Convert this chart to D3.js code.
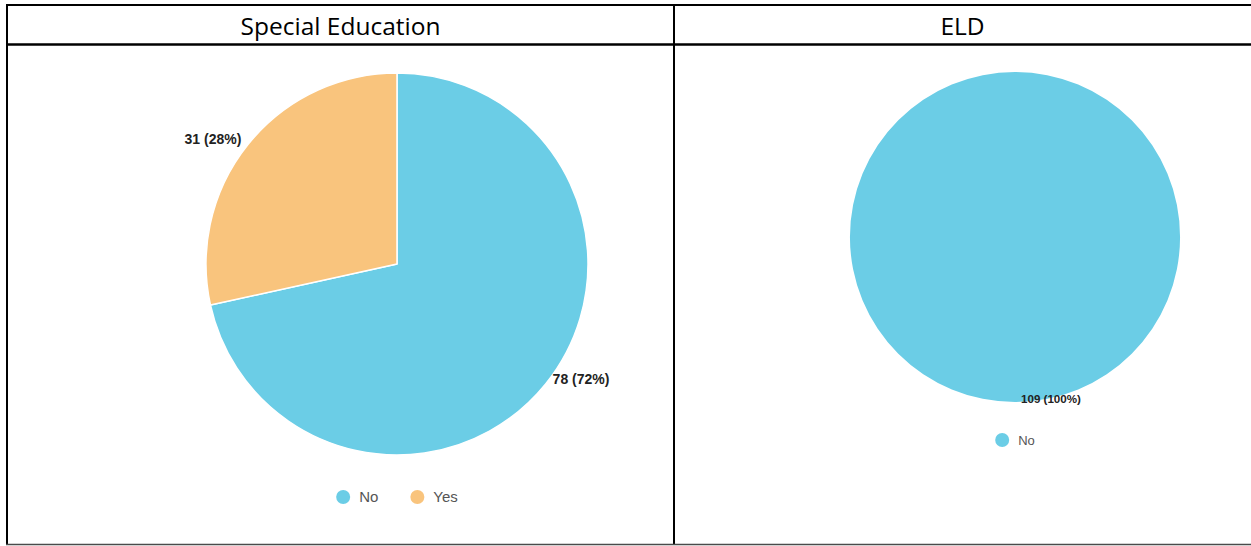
<!DOCTYPE html>
<html>
<head>
<meta charset="utf-8">
<script src="https://cdn.jsdelivr.net/npm/d3@7"></script>
<style>
  html, body { margin: 0; padding: 0; background: #fff; }
  svg { display: block; }
</style>
</head>
<body>
<svg id="chart" width="1251" height="546"></svg>
<script>
// Panel titles
const panelTitles = ["Special Education", "ELD"];

// Special Education responses
const specialEdCategories = ["No", "Yes"];
const specialEdCounts = [78, 31];

// ELD responses
const eldCategories = ["No"];
const eldCounts = [109];

// Shared category colours
const categoryColors = { "No": "#6bcde6", "Yes": "#f9c47d" };

const svg = d3.select("#chart");

// ---- table frame ----
const frame = { left: 7, mid: 674, right: 1251, top: 5, headerBottom: 44.5, bottom: 544.5 };
const g = svg.append("g");
g.append("line").attr("x1", 6).attr("x2", 1251).attr("y1", frame.top).attr("y2", frame.top)
  .attr("stroke", "#000").attr("stroke-width", 2);
g.append("line").attr("x1", 6).attr("x2", 1251).attr("y1", frame.headerBottom).attr("y2", frame.headerBottom)
  .attr("stroke", "#000").attr("stroke-width", 2.5);
g.append("line").attr("x1", frame.left).attr("x2", frame.left).attr("y1", 4).attr("y2", 545)
  .attr("stroke", "#000").attr("stroke-width", 2);
g.append("line").attr("x1", frame.mid).attr("x2", frame.mid).attr("y1", 4).attr("y2", 545)
  .attr("stroke", "#000").attr("stroke-width", 2);
g.append("line").attr("x1", 6).attr("x2", 1251).attr("y1", frame.bottom).attr("y2", frame.bottom)
  .attr("stroke", "#4a4a4a").attr("stroke-width", 1.5);

// header titles
const titleX = [(frame.left + frame.mid) / 2, (frame.mid + frame.right) / 2];
panelTitles.forEach((t, i) => {
  g.append("text")
    .attr("x", titleX[i]).attr("y", 35)
    .attr("text-anchor", "middle")
    .attr("font-family", "'Open Sans', 'Noto Sans', sans-serif")
    .attr("font-size", 24.5)
    .attr("fill", "#000")
    .text(t);
});

// ---- pie drawing ----
function drawPie(opts) {
  const { categories, counts, cx, cy, radius, labelSize, legendSize, legendY, legendDot } = opts;
  const data = categories.map((c, i) => ({ category: c, value: counts[i] }));
  const total = d3.sum(counts);
  const pie = d3.pie().sort(null).value(d => d.value);
  const arc = d3.arc().innerRadius(0).outerRadius(radius);
  const arcs = pie(data);

  const pg = svg.append("g").attr("transform", `translate(${cx},${cy})`);

  pg.selectAll("path.slice")
    .data(arcs)
    .join("path")
    .attr("class", "slice")
    .attr("d", arc)
    .attr("fill", d => categoryColors[d.data.category])
    .attr("stroke", arcs.length > 1 ? "#fff" : "none")
    .attr("stroke-width", 1.5)
    .attr("stroke-linejoin", "round");

  // value labels just outside the rim at each slice's mid-angle
  const labelArc = d3.arc().innerRadius(radius + 1).outerRadius(radius + 1);
  pg.selectAll("text.value")
    .data(arcs)
    .join("text")
    .attr("class", "value")
    .each(function (d) {
      const [x, y] = labelArc.centroid(d);
      const right = x >= -1e-6;
      d3.select(this)
        .attr("x", x + (right ? 6 : -6))
        .attr("y", y)
        .attr("text-anchor", right ? "start" : "end");
    })
    .attr("font-family", "'Liberation Sans', Arial, sans-serif")
    .attr("font-weight", "bold")
    .attr("font-size", labelSize)
    .attr("fill", "#222")
    .text(d => `${d.data.value} (${Math.round(d.data.value / total * 100)}%)`);

  // legend, centred under the pie
  const lg = svg.append("g");
  const items = lg.selectAll("g.item").data(data).join("g").attr("class", "item");
  items.append("circle")
    .attr("r", legendDot)
    .attr("cy", 0)
    .attr("fill", d => categoryColors[d.category]);
  items.append("text")
    .attr("x", legendDot + 9)
    .attr("dy", "0.35em")
    .attr("font-family", "'Liberation Sans', Arial, sans-serif")
    .attr("font-size", legendSize)
    .attr("fill", "#555")
    .text(d => d.category);
  let offset = 0;
  const widths = [];
  items.each(function () {
    widths.push(this.getBBox().width);
  });
  const gap = 32;
  const totalW = d3.sum(widths) + gap * (widths.length - 1);
  items.attr("transform", (d, i) => {
    const x = cx - totalW / 2 + legendDot + offset;
    offset += widths[i] + gap;
    return `translate(${x},${legendY})`;
  });
}

drawPie({
  categories: specialEdCategories, counts: specialEdCounts,
  cx: 397, cy: 264, radius: 191,
  labelSize: 14, legendSize: 15, legendY: 497, legendDot: 7
});

drawPie({
  categories: eldCategories, counts: eldCounts,
  cx: 1015, cy: 237, radius: 165,
  labelSize: 11.6, legendSize: 13, legendY: 440, legendDot: 7
});
</script>
</body>
</html>
